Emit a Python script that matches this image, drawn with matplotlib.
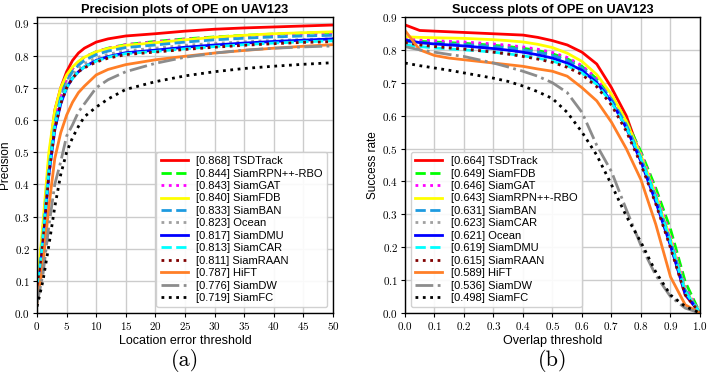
import matplotlib
matplotlib.use("Agg")
import matplotlib.pyplot as plt

plt.rcParams['axes.formatter.use_mathtext'] = True

# ---------------- data ----------------
prec_x = [0, 1, 2, 3, 4, 5, 6, 7, 8, 10, 12, 15, 20, 25, 30, 35, 40, 45, 50]
prec_labels = ["[0.868] TSDTrack", "[0.844] SiamRPN++-RBO", "[0.843] SiamGAT",
               "[0.840] SiamFDB", "[0.833] SiamBAN", "[0.823] Ocean",
               "[0.817] SiamDMU", "[0.813] SiamCAR", "[0.811] SiamRAAN",
               "[0.787] HiFT", "[0.776] SiamDW", "[0.719] SiamFC"]
prec_tsdtrack = [.05, .25, .48, .63, .70, .75, .785, .808, .823, .842, .852, .861, .868, .876, .882, .886, .889, .892, .895]
prec_rpnrbo = [.06, .26, .47, .60, .68, .73, .76, .78, .795, .812, .823, .834, .844, .852, .858, .863, .867, .870, .872]
prec_siamgat = [.06, .26, .47, .60, .68, .73, .76, .78, .795, .812, .823, .834, .843, .851, .857, .861, .865, .867, .869]
prec_siamfdb = [.07, .28, .50, .63, .70, .74, .765, .782, .795, .812, .822, .832, .840, .849, .857, .863, .868, .871, .874]
prec_siamban = [.05, .24, .45, .59, .67, .72, .75, .77, .785, .803, .814, .825, .833, .842, .849, .854, .858, .861, .863]
prec_ocean = [.05, .23, .44, .58, .66, .71, .74, .76, .775, .793, .804, .815, .823, .832, .838, .843, .847, .850, .852]
prec_siamdmu = [.04, .22, .43, .57, .65, .70, .73, .75, .765, .785, .797, .809, .817, .826, .833, .839, .844, .848, .852]
prec_siamcar = [.05, .23, .44, .58, .66, .70, .73, .75, .765, .783, .795, .806, .813, .821, .828, .834, .839, .843, .846]
prec_siamraan = [.04, .22, .43, .57, .65, .70, .73, .75, .762, .780, .792, .803, .811, .819, .826, .832, .837, .841, .843]
prec_hift = [.03, .15, .33, .48, .56, .615, .655, .685, .705, .740, .757, .772, .787, .798, .808, .816, .823, .829, .834]
prec_siamdw = [.03, .12, .27, .40, .47, .55, .585, .625, .650, .700, .725, .750, .776, .795, .808, .817, .823, .827, .830]
prec_siamfc = [.02, .10, .21, .33, .43, .50, .545, .580, .610, .640, .665, .695, .719, .737, .750, .760, .767, .773, .778]

succ_x = [0.0, 0.05, 0.1, 0.15, 0.2, 0.25, 0.3, 0.35, 0.4, 0.45, 0.5,
          0.55, 0.6, 0.65, 0.7, 0.75, 0.8, 0.85, 0.9, 0.95, 1.0]
succ_labels = ["[0.664] TSDTrack", "[0.649] SiamFDB", "[0.646] SiamGAT",
               "[0.643] SiamRPN++-RBO", "[0.631] SiamBAN", "[0.623] SiamCAR",
               "[0.621] Ocean", "[0.619] SiamDMU", "[0.615] SiamRAAN",
               "[0.589] HiFT", "[0.536] SiamDW", "[0.498] SiamFC"]
succ_tsdtrack = [.876, .859, .857, .855, .853, .851, .849, .847, .845, .838, .828, .815, .793, .757, .685, .600, .475, .355, .210, .055, .000]
succ_siamfdb = [.830, .826, .824, .822, .820, .817, .814, .810, .805, .798, .788, .773, .750, .712, .660, .585, .490, .380, .255, .095, .000]
succ_siamgat = [.835, .830, .828, .826, .824, .821, .818, .814, .809, .802, .792, .777, .752, .714, .660, .582, .485, .370, .235, .080, .000]
succ_rpnrbo = [.840, .838, .837, .836, .835, .833, .831, .828, .824, .817, .807, .790, .765, .725, .665, .583, .478, .360, .225, .070, .000]
succ_siamban = [.825, .822, .820, .818, .816, .813, .810, .806, .800, .793, .783, .768, .745, .705, .650, .573, .472, .355, .220, .070, .000]
succ_siamcar = [.820, .815, .812, .809, .806, .803, .800, .795, .790, .782, .772, .757, .735, .697, .642, .565, .465, .345, .210, .062, .000]
succ_ocean = [.830, .822, .818, .815, .812, .808, .804, .799, .793, .785, .775, .760, .738, .700, .643, .563, .460, .338, .205, .058, .000]
succ_siamdmu = [.815, .810, .806, .803, .800, .797, .793, .788, .782, .775, .766, .752, .730, .695, .640, .565, .468, .350, .215, .065, .000]
succ_siamraan = [.822, .815, .810, .806, .802, .798, .793, .787, .780, .772, .762, .747, .725, .688, .632, .553, .452, .332, .198, .055, .000]
succ_hift = [.859, .800, .783, .775, .770, .765, .760, .755, .750, .742, .735, .720, .685, .645, .580, .500, .405, .270, .110, .025, .000]
succ_siamdw = [.810, .800, .793, .786, .780, .770, .760, .748, .735, .720, .700, .670, .610, .510, .430, .315, .205, .115, .050, .015, .000]
succ_siamfc = [.760, .752, .745, .738, .730, .722, .714, .704, .690, .673, .652, .610, .550, .480, .390, .295, .215, .125, .055, .020, .000]

prec_series = [prec_tsdtrack, prec_rpnrbo, prec_siamgat, prec_siamfdb, prec_siamban,
               prec_ocean, prec_siamdmu, prec_siamcar, prec_siamraan, prec_hift,
               prec_siamdw, prec_siamfc]
succ_series = [succ_tsdtrack, succ_siamfdb, succ_siamgat, succ_rpnrbo, succ_siamban,
               succ_siamcar, succ_ocean, succ_siamdmu, succ_siamraan, succ_hift,
               succ_siamdw, succ_siamfc]

# styles by rank
colors = ["#ff0000", "#00ff00", "#ff00ff", "#ffff00", "#1e9be0", "#a0a0a0",
          "#0000ff", "#00ffff", "#800000", "#ff7f27", "#8c8c8c", "#000000"]
styles = ["-", "--", ":", "-", "--", ":", "-", "--", ":", "-", "-.", ":"]

SANS = "Liberation Sans"
SERIF = "cmr10"

fig = plt.figure(figsize=(7.08, 3.86), dpi=100)
ax1 = fig.add_axes([0.0523, 0.189, 0.418, 0.767])
ax2 = fig.add_axes([0.572, 0.189, 0.4167, 0.767])


def style_axes(ax, xticks, yticks, xlim, ylim, xlabel, ylabel, title):
    ax.set_xlim(*xlim)
    ax.set_ylim(*ylim)
    ax.set_xticks(xticks)
    ax.set_yticks(yticks)
    ax.grid(True, color="#cccccc", linewidth=1.0)
    ax.set_axisbelow(True)
    ax.tick_params(direction="out", length=3, width=0.8, labelsize=8, pad=2)
    for lab in ax.get_xticklabels() + ax.get_yticklabels():
        lab.set_fontfamily(SERIF)
    for s in ax.spines.values():
        s.set_linewidth(1.0)
    ax.set_xlabel(xlabel, fontfamily=SANS, fontsize=9, labelpad=2)
    ax.set_ylabel(ylabel, fontfamily=SANS, fontsize=8.5)
    ax.yaxis.set_label_coords(-0.088, 0.5)
    ax.set_title(title, fontfamily=SANS, fontsize=9.2, fontweight="bold", pad=3)


for ys, lab, c, ls in zip(prec_series, prec_labels, colors, styles):
    ax1.plot(prec_x, ys, color=c, linestyle=ls, linewidth=2, label=lab)
for ys, lab, c, ls in zip(succ_series, succ_labels, colors, styles):
    ax2.plot(succ_x, ys, color=c, linestyle=ls, linewidth=2, label=lab)

style_axes(ax1, list(range(0, 51, 5)), [i / 10 for i in range(10)], (0, 50), (0, 0.92),
           "Location error threshold", "Precision", "Precision plots of OPE on UAV123")
style_axes(ax2, [i / 10 for i in range(11)], [i / 10 for i in range(10)], (0, 1), (0, 0.90),
           "Overlap threshold", "Success rate", "Success plots of OPE on UAV123")

for ax, loc in ((ax1, "lower right"), (ax2, "lower left")):
    ax.legend(loc=loc, prop={"family": SANS, "size": 8}, labelspacing=0.22,
              handlelength=2.4, borderpad=0.4, handletextpad=0.8,
              framealpha=0.9, fancybox=True)

fig.text(0.0523 + 0.418 / 2, 0.067, "(a)", ha="center", va="center",
         fontfamily=SERIF, fontsize=16)
fig.text(0.572 + 0.4167 / 2, 0.067, "(b)", ha="center", va="center",
         fontfamily=SERIF, fontsize=16)

fig.savefig("out.png", dpi=100)
